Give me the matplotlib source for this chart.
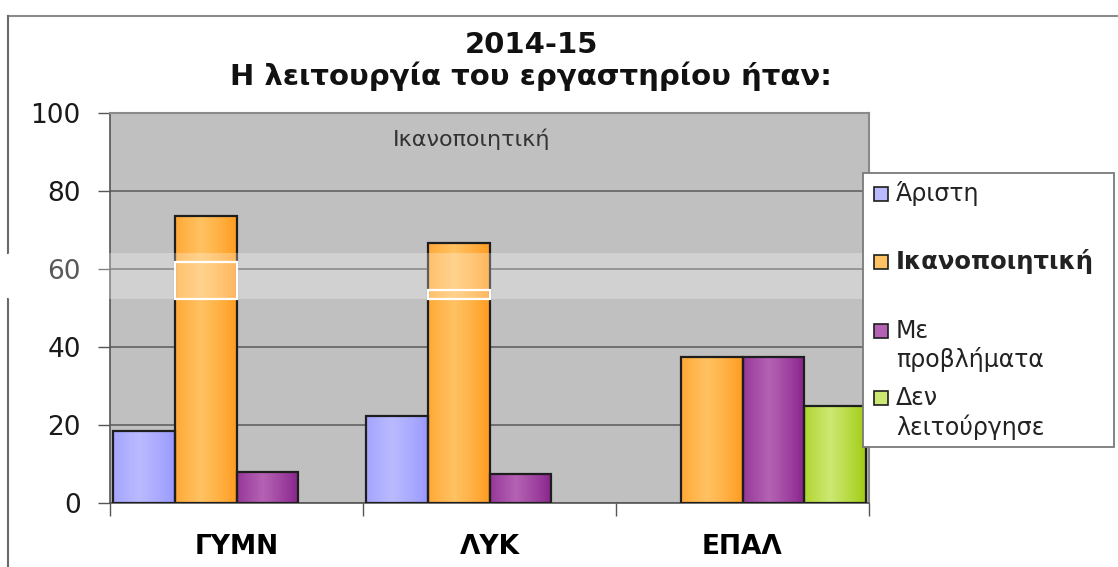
import numpy as np
import matplotlib
matplotlib.use("Agg")
import matplotlib.pyplot as plt
import matplotlib.colors as mcolors
import matplotlib.transforms as mtransforms
from matplotlib.patches import Rectangle
from matplotlib.lines import Line2D

plt.rcParams['font.family'] = ['DejaVu Sans']

# Data
categories = ['ΓΥΜΝ', 'ΛΥΚ', 'ΕΠΑΛ']
series = ['Άριστη', 'Ικανοποιητική', 'Με\nπροβλήματα', 'Δεν\nλειτούργησε']
aristi = [18.4, 22.2, 0.0]
ikanopoiitiki = [73.7, 66.7, 37.5]
me_provlimata = [7.9, 7.4, 37.5]
den_leitourgise = [0.0, 0.0, 25.0]
values = [aristi, ikanopoiitiki, me_provlimata, den_leitourgise]
title = '2014-15\nΗ λειτουργία του εργαστηρίου ήταν:'
hover_label = 'Ικανοποιητική'

# gradient colours (edge, centre) per series
edge_cols = ['#9898ff', '#ff9a1c', '#86208a', '#9ecb0c']
mid_cols = ['#babaff', '#ffc262', '#b462b4', '#cde872']

W, H = 1118, 567
fig = plt.figure(figsize=(W / 100, H / 100), dpi=100)
fig.patch.set_facecolor('white')

def fx(px):
    return px / W

def fy(py):
    return 1 - py / H

ax = fig.add_axes([fx(110), fy(503), fx(869) - fx(110), fy(113) - fy(503)])
ax.set_facecolor('#c0c0c0')
ax.set_xlim(0, 3)
ax.set_ylim(0, 100)
ax.set_autoscale_on(False)

ax.set_yticks(range(0, 101, 20))
ax.yaxis.grid(True, color='#5a5a5a', linewidth=1.1)
ax.set_axisbelow(True)
ax.tick_params(axis='y', labelsize=19, length=9, width=1, color='#555555',
               pad=12, labelcolor='#1a1a1a')

ax.set_xticks([0, 1, 2, 3])
ax.set_xticklabels([])
ax.set_xticks([0.5, 1.5, 2.5], minor=True)
ax.set_xticklabels(categories, minor=True, fontsize=19, fontweight='bold')
ax.tick_params(axis='x', which='major', length=9, width=1, color='#555555')
ax.tick_params(axis='x', which='minor', length=0, pad=22)

for s in ['left', 'bottom']:
    ax.spines[s].set_color('#555555')
    ax.spines[s].set_linewidth(1.2)
for s in ['top', 'right']:
    ax.spines[s].set_color('#8a8a8a')
    ax.spines[s].set_linewidth(1.5)

bar_w = 0.245
x = np.arange(len(categories))
t = np.linspace(0, 1, 64)
prof = np.clip(1 - np.abs(t - 0.42) / 0.58, 0, 1) ** 0.8

bars = []
for i, vals in enumerate(values):
    bc = ax.bar(x + 0.01 + i * bar_w, vals, width=bar_w, align='edge',
                facecolor='none', edgecolor='#1e1e1e', linewidth=1.6, zorder=3)
    e = np.array(mcolors.to_rgb(edge_cols[i]))
    m = np.array(mcolors.to_rgb(mid_cols[i]))
    grad = (e[None, :] * (1 - prof[:, None]) + m[None, :] * prof[:, None])[None, :, :]
    for p in bc.patches:
        if p.get_height() <= 0:
            p.set_visible(False)
            continue
        x0 = p.get_x()
        im = ax.imshow(grad, extent=[x0, x0 + p.get_width(), 0, p.get_height()],
                       aspect='auto', interpolation='bilinear', zorder=2)
        im.set_clip_path(p)
    bars.append(bc)

ax.text(1.43, 93.3, hover_label, fontsize=16, color='#333333',
        ha='center', va='center')

# title
fig.text(fx(531), fy(61), title, ha='center', va='center', fontsize=21,
         fontweight='bold', linespacing=1.1, color='#111111')

# outer chart frame (partly visible, cut by the light band)
fig.add_artist(Line2D([fx(8), 1], [fy(16), fy(16)], color='#8c8c8c', lw=1.5))
fig.add_artist(Line2D([fx(8), fx(8)], [fy(16), fy(253)], color='#6a6a6a', lw=1.5))
fig.add_artist(Line2D([fx(8), fx(8)], [fy(299), 0], color='#6a6a6a', lw=1.5))

# light horizontal band artefact (stops at the legend)
fig.add_artist(Rectangle((fx(8), fy(299)), fx(863) - fx(8), fy(253) - fy(299),
                         facecolor='white', edgecolor='none', alpha=0.28, zorder=3))
blend = mtransforms.blended_transform_factory(ax.transData, fig.transFigure)
for p, top in zip(bars[1].patches[:2], [262, 290]):
    ax.add_patch(Rectangle((p.get_x(), fy(299)), p.get_width(), fy(top) - fy(299),
                           transform=blend, facecolor='none', edgecolor='white',
                           lw=1.6, zorder=7, clip_on=False))

# legend
fig.add_artist(Rectangle((fx(863), fy(447)), fx(1114) - fx(863), fy(173) - fy(447),
                         facecolor='white', edgecolor='#7a7a7a', lw=1.3, zorder=4))
entry_y = [194, 262, 331, 398]
for i, lab in enumerate(series):
    cy = entry_y[i]
    fig.add_artist(Rectangle((fx(874), fy(cy + 7)), fx(14), fy(0) - fy(14),
                             facecolor=mid_cols[i], edgecolor='#1e1e1e', lw=1.2,
                             zorder=5))
    for k, line in enumerate(lab.split('\n')):
        fig.text(fx(896), fy(cy + k * 29), line, fontsize=17.5 if i == 1 else 17,
                 va='center', ha='left', color='#222222', zorder=5,
                 fontweight='bold' if i == 1 else 'normal')

fig.savefig('out.png', dpi=100)
